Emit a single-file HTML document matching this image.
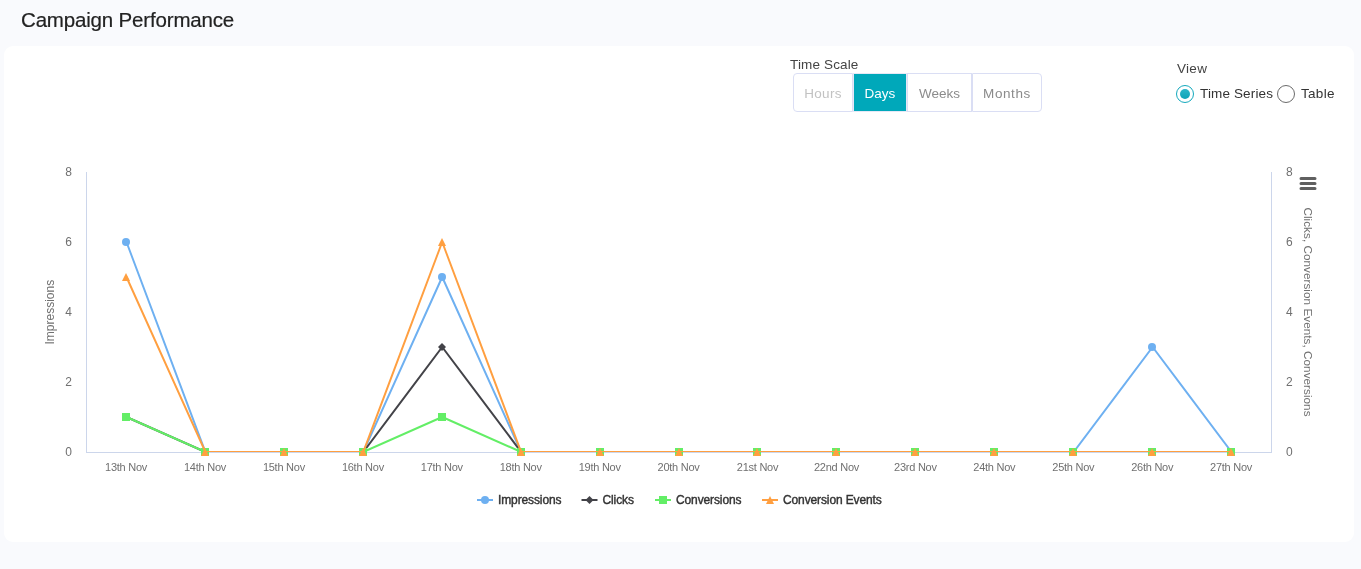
<!DOCTYPE html>
<html lang="en"><head><meta charset="utf-8"><title>Campaign Performance</title>
<style>
html,body{margin:0;padding:0}
body{width:1361px;height:569px;overflow:hidden;background:#f9fafd;font-family:"Liberation Sans",sans-serif;position:relative;color:#333}
.title{position:absolute;left:20.8px;top:8px;font-size:20.5px;line-height:24px;color:#222;white-space:nowrap;letter-spacing:-0.17px;-webkit-text-stroke:0.2px #222}
.card{position:absolute;left:4px;top:46px;width:1350px;height:496px;background:#fff;border-radius:9px}
.lbl{position:absolute;font-size:13.5px;line-height:16px;color:#444;white-space:nowrap}
.btns{position:absolute;left:793px;top:73px;height:39px;display:flex}
.btn{box-sizing:border-box;height:39px;border:1px solid #dadef4;background:#fff;color:#8b8b8b;font-size:13.5px;line-height:39px;text-align:center;white-space:nowrap}
.btn:first-child{border-radius:4px 0 0 4px;color:#c2c2c2}
.btn:last-child{border-radius:0 4px 4px 0}
.btn.on{background:#00a8ba;border-color:#e6e8f6;color:#fff}
.radio{position:absolute;width:16px;height:16px;border-radius:50%;border:1px solid #6b6b6b;background:#fff}
.radio.on{border-color:#14a9bd}
.radio.on::after{content:"";position:absolute;left:3px;top:3px;width:10px;height:10px;border-radius:50%;background:linear-gradient(#2cb6c9,#0ea3b7)}
.chart{position:absolute;left:0;top:0}
.title,.lbl,.btns,.chart{will-change:transform}
.chart text{font-family:"Liberation Sans",sans-serif;fill:#707070}
.yl text{font-size:12px}
.xl text{font-size:11px;letter-spacing:-0.25px}
.at{font-size:12px}
.at2{font-size:11.8px}
.chart text.lg{font-size:12px;fill:#333;stroke:#333;stroke-width:0.4px;letter-spacing:-0.12px}
</style></head><body>
<div class="title">Campaign Performance</div>
<div class="card"></div>
<div class="lbl" style="left:790px;top:57px;letter-spacing:0.15px">Time Scale</div>
<div class="btns"><div class="btn" style="width:60px;letter-spacing:0.3px">Hours</div><div class="btn on" style="width:54px">Days</div><div class="btn" style="width:65px">Weeks</div><div class="btn" style="width:70px;letter-spacing:0.6px">Months</div></div>
<div class="lbl" style="left:1177px;top:61px;letter-spacing:0.3px">View</div>
<div class="radio on" style="left:1176px;top:85px"></div>
<div class="lbl" style="left:1200px;top:86px;color:#333;letter-spacing:0.14px">Time Series</div>
<div class="radio" style="left:1277px;top:85px"></div>
<div class="lbl" style="left:1301px;top:86px;color:#333;letter-spacing:0.3px">Table</div>
<svg class="chart" width="1361" height="569" viewBox="0 0 1361 569"><defs><clipPath id="pc"><rect x="86" y="172" width="1185" height="280"/></clipPath></defs><path d="M86.5 172V452.5M1271.5 172V452.5M86 452.5H1272" stroke="#ccd6eb" stroke-width="1" fill="none"/><polyline clip-path="url(#pc)" points="126.47,242.00 205.40,452.00 284.33,452.00 363.27,452.00 442.20,277.00 521.13,452.00 600.07,452.00 679.00,452.00 757.93,452.00 836.87,452.00 915.80,452.00 994.73,452.00 1073.67,452.00 1152.60,347.00 1231.53,452.00" fill="none" stroke="#6eb0f1" stroke-width="2" stroke-linejoin="round" stroke-linecap="round"/><circle cx="126.00" cy="242.00" r="4" fill="#6eb0f1"/><circle cx="205.00" cy="452.00" r="4" fill="#6eb0f1"/><circle cx="284.00" cy="452.00" r="4" fill="#6eb0f1"/><circle cx="363.00" cy="452.00" r="4" fill="#6eb0f1"/><circle cx="442.00" cy="277.00" r="4" fill="#6eb0f1"/><circle cx="521.00" cy="452.00" r="4" fill="#6eb0f1"/><circle cx="600.00" cy="452.00" r="4" fill="#6eb0f1"/><circle cx="679.00" cy="452.00" r="4" fill="#6eb0f1"/><circle cx="757.00" cy="452.00" r="4" fill="#6eb0f1"/><circle cx="836.00" cy="452.00" r="4" fill="#6eb0f1"/><circle cx="915.00" cy="452.00" r="4" fill="#6eb0f1"/><circle cx="994.00" cy="452.00" r="4" fill="#6eb0f1"/><circle cx="1073.00" cy="452.00" r="4" fill="#6eb0f1"/><circle cx="1152.00" cy="347.00" r="4" fill="#6eb0f1"/><circle cx="1231.00" cy="452.00" r="4" fill="#6eb0f1"/><polyline clip-path="url(#pc)" points="126.47,417.00 205.40,452.00 284.33,452.00 363.27,452.00 442.20,347.00 521.13,452.00 600.07,452.00 679.00,452.00 757.93,452.00 836.87,452.00 915.80,452.00 994.73,452.00 1073.67,452.00 1152.60,452.00 1231.53,452.00" fill="none" stroke="#434348" stroke-width="2" stroke-linejoin="round" stroke-linecap="round"/><path d="M126.00 413.00l4 4l-4 4l-4 -4z" fill="#434348"/><path d="M205.00 448.00l4 4l-4 4l-4 -4z" fill="#434348"/><path d="M284.00 448.00l4 4l-4 4l-4 -4z" fill="#434348"/><path d="M363.00 448.00l4 4l-4 4l-4 -4z" fill="#434348"/><path d="M442.00 343.00l4 4l-4 4l-4 -4z" fill="#434348"/><path d="M521.00 448.00l4 4l-4 4l-4 -4z" fill="#434348"/><path d="M600.00 448.00l4 4l-4 4l-4 -4z" fill="#434348"/><path d="M679.00 448.00l4 4l-4 4l-4 -4z" fill="#434348"/><path d="M757.00 448.00l4 4l-4 4l-4 -4z" fill="#434348"/><path d="M836.00 448.00l4 4l-4 4l-4 -4z" fill="#434348"/><path d="M915.00 448.00l4 4l-4 4l-4 -4z" fill="#434348"/><path d="M994.00 448.00l4 4l-4 4l-4 -4z" fill="#434348"/><path d="M1073.00 448.00l4 4l-4 4l-4 -4z" fill="#434348"/><path d="M1152.00 448.00l4 4l-4 4l-4 -4z" fill="#434348"/><path d="M1231.00 448.00l4 4l-4 4l-4 -4z" fill="#434348"/><polyline clip-path="url(#pc)" points="126.47,417.00 205.40,452.00 284.33,452.00 363.27,452.00 442.20,417.00 521.13,452.00 600.07,452.00 679.00,452.00 757.93,452.00 836.87,452.00 915.80,452.00 994.73,452.00 1073.67,452.00 1152.60,452.00 1231.53,452.00" fill="none" stroke="#63ee66" stroke-width="2" stroke-linejoin="round" stroke-linecap="round"/><rect x="122.00" y="413.00" width="8" height="8" fill="#63ee66"/><rect x="201.00" y="448.00" width="8" height="8" fill="#63ee66"/><rect x="280.00" y="448.00" width="8" height="8" fill="#63ee66"/><rect x="359.00" y="448.00" width="8" height="8" fill="#63ee66"/><rect x="438.00" y="413.00" width="8" height="8" fill="#63ee66"/><rect x="517.00" y="448.00" width="8" height="8" fill="#63ee66"/><rect x="596.00" y="448.00" width="8" height="8" fill="#63ee66"/><rect x="675.00" y="448.00" width="8" height="8" fill="#63ee66"/><rect x="753.00" y="448.00" width="8" height="8" fill="#63ee66"/><rect x="832.00" y="448.00" width="8" height="8" fill="#63ee66"/><rect x="911.00" y="448.00" width="8" height="8" fill="#63ee66"/><rect x="990.00" y="448.00" width="8" height="8" fill="#63ee66"/><rect x="1069.00" y="448.00" width="8" height="8" fill="#63ee66"/><rect x="1148.00" y="448.00" width="8" height="8" fill="#63ee66"/><rect x="1227.00" y="448.00" width="8" height="8" fill="#63ee66"/><polyline clip-path="url(#pc)" points="126.47,277.00 205.40,452.00 284.33,452.00 363.27,452.00 442.20,242.00 521.13,452.00 600.07,452.00 679.00,452.00 757.93,452.00 836.87,452.00 915.80,452.00 994.73,452.00 1073.67,452.00 1152.60,452.00 1231.53,452.00" fill="none" stroke="#ff9f40" stroke-width="2" stroke-linejoin="round" stroke-linecap="round"/><path d="M126.00 273.00l4 8h-8z" fill="#ff9f40"/><path d="M205.00 448.00l4 8h-8z" fill="#ff9f40"/><path d="M284.00 448.00l4 8h-8z" fill="#ff9f40"/><path d="M363.00 448.00l4 8h-8z" fill="#ff9f40"/><path d="M442.00 238.00l4 8h-8z" fill="#ff9f40"/><path d="M521.00 448.00l4 8h-8z" fill="#ff9f40"/><path d="M600.00 448.00l4 8h-8z" fill="#ff9f40"/><path d="M679.00 448.00l4 8h-8z" fill="#ff9f40"/><path d="M757.00 448.00l4 8h-8z" fill="#ff9f40"/><path d="M836.00 448.00l4 8h-8z" fill="#ff9f40"/><path d="M915.00 448.00l4 8h-8z" fill="#ff9f40"/><path d="M994.00 448.00l4 8h-8z" fill="#ff9f40"/><path d="M1073.00 448.00l4 8h-8z" fill="#ff9f40"/><path d="M1152.00 448.00l4 8h-8z" fill="#ff9f40"/><path d="M1231.00 448.00l4 8h-8z" fill="#ff9f40"/><g class="yl" text-anchor="end"><text x="72" y="456.2">0</text><text x="72" y="386.2">2</text><text x="72" y="316.2">4</text><text x="72" y="246.2">6</text><text x="72" y="176.2">8</text></g><g class="yl" text-anchor="start"><text x="1286" y="456.2">0</text><text x="1286" y="386.2">2</text><text x="1286" y="316.2">4</text><text x="1286" y="246.2">6</text><text x="1286" y="176.2">8</text></g><g class="xl" text-anchor="middle"><text x="126.1" y="471">13th Nov</text><text x="205.0" y="471">14th Nov</text><text x="283.9" y="471">15th Nov</text><text x="362.9" y="471">16th Nov</text><text x="441.8" y="471">17th Nov</text><text x="520.7" y="471">18th Nov</text><text x="599.7" y="471">19th Nov</text><text x="678.6" y="471">20th Nov</text><text x="757.5" y="471">21st Nov</text><text x="836.5" y="471">22nd Nov</text><text x="915.4" y="471">23rd Nov</text><text x="994.3" y="471">24th Nov</text><text x="1073.3" y="471">25th Nov</text><text x="1152.2" y="471">26th Nov</text><text x="1231.1" y="471">27th Nov</text></g><text class="at" text-anchor="middle" transform="translate(53.5 312.2) rotate(-90)">Impressions</text><text class="at2" text-anchor="middle" transform="translate(1303.5 312) rotate(90)">Clicks, Conversion Events, Conversions</text><path d="M1301 178.5H1315M1301 183.5H1315M1301 188.5H1315" stroke="#606060" stroke-width="3" stroke-linecap="round"/><path d="M477 500H493" stroke="#6eb0f1" stroke-width="2"/><circle cx="485" cy="500" r="4" fill="#6eb0f1"/><text class="lg" x="498" y="504">Impressions</text><path d="M581.5 500H597.5" stroke="#434348" stroke-width="2"/><path d="M589.5 496l4 4l-4 4l-4 -4z" fill="#434348"/><text class="lg" x="602.5" y="504">Clicks</text><path d="M655 500H671" stroke="#63ee66" stroke-width="2"/><rect x="659" y="496" width="8" height="8" fill="#63ee66"/><text class="lg" x="676" y="504">Conversions</text><path d="M762 500H778" stroke="#ff9f40" stroke-width="2"/><path d="M770 496l4 8h-8z" fill="#ff9f40"/><text class="lg" x="783" y="504">Conversion Events</text></svg>
</body></html>
